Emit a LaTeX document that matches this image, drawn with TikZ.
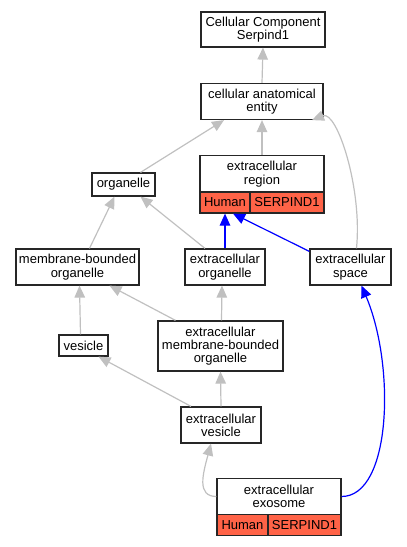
\documentclass[tikz,border=0pt]{standalone}
\usepackage{fontspec}
\setmainfont{Liberation Sans}
\usetikzlibrary{arrows.meta,calc}
\definecolor{edgegray}{RGB}{192,192,192}
\definecolor{cellred}{RGB}{255,99,71}
\tikzset{
  term/.style={draw=black!85, line width=1.2pt, fill=white, inner sep=0pt, align=center,
    font=\fontsize{13}{13.3}\selectfont},
  cell/.style={term, fill=cellred, minimum height=21pt},
  gedge/.style={draw=edgegray, line width=1.2pt, -{Triangle[width=10.5pt,length=12pt]}},
  bedge/.style={draw=blue, line width=1.2pt, -{Triangle[width=10.5pt,length=12pt]}},
}
\begin{document}
\begin{tikzpicture}[x=1pt,y=-1pt]
\useasboundingbox (0,0) rectangle (407,547);
% nodes
\node[term, minimum width=124pt, minimum height=35pt] (ccs) at (263,29.5) {Cellular Component\\Serpind1};
\node[term, minimum width=122pt, minimum height=36pt] (cae) at (262,101.5) {cellular anatomical\\entity};
\node[term, minimum width=124pt, minimum height=37pt] (er) at (262,174) {extracellular\\region};
\node[cell, minimum width=50pt] (erh) at (225,202.5) {Human};
\node[cell, minimum width=74pt] (ers) at (287,202.5) {SERPIND1};
\node[term, minimum width=63pt, minimum height=23pt] (org) at (123.5,184.5) {organelle};
\node[term, minimum width=123pt, minimum height=36pt] (mbo) at (77.5,267) {membrane-bounded\\organelle};
\node[term, minimum width=80pt, minimum height=36pt] (eo) at (225,267) {extracellular\\organelle};
\node[term, minimum width=81pt, minimum height=36pt] (es) at (350.5,267) {extracellular\\space};
\node[term, minimum width=49pt, minimum height=21pt] (ves) at (83.5,345.5) {vesicle};
\node[term, minimum width=125pt, minimum height=50pt] (embo) at (220.5,346) {extracellular\\membrane-bounded\\organelle};
\node[term, minimum width=80pt, minimum height=36pt] (ev) at (221,425) {extracellular\\vesicle};
\node[term, minimum width=124pt, minimum height=36pt] (exo) at (279,496.5) {extracellular\\exosome};
\node[cell, minimum width=51pt] (exoh) at (242.5,525) {Human};
\node[cell, minimum width=73pt] (exos) at (304.5,525) {SERPIND1};
% gray edges
\draw[gedge] (cae.north) -- (ccs.south);
\draw[gedge] (er.north) -- (cae.south);
\draw[gedge] ($(org.north)+(17,0)$) -- ($(cae.south)+(-38,0)$);
\draw[gedge] ($(es.north)+(6,0)$) .. controls ($(es.north)+(12,-60)$) and ($(cae.south)+(75,-10)$) .. ($(cae.south)+(50,0)$);
\draw[gedge] ($(mbo.north)+(12,0)$) -- ($(org.south)+(-9,0)$);
\draw[gedge] ($(eo.north)+(-20,0)$) -- ($(org.south)+(17,0)$);
\draw[gedge] ($(ves.north)+(-3,0)$) -- ($(mbo.south)+(2,0)$);
\draw[gedge] ($(embo.north)+(-45,0)$) -- ($(mbo.south)+(32,0)$);
\draw[gedge] ($(embo.north)+(1,0)$) -- ($(eo.south)+(-3,0)$);
\draw[gedge] ($(ev.north)+(-30,0)$) -- ($(ves.south)+(15,0)$);
\draw[gedge] (ev.north) -- (embo.south);
\draw[gedge] (exo.west) .. controls ($(exo.west)+(-20,0)$) and ($(ev.south)+(-18,30)$) .. ($(ev.south)+(-10,0)$);
% blue edges
\draw[bedge] (eo.north) -- (erh.south);
\draw[bedge] ($(es.north west)+(0,3)$) -- ($(erh.south)+(8,0)$);
\draw[bedge] (exo.east) .. controls ($(exo.east)+(50,0)$) and ($(es.south)+(45,80)$) .. ($(es.south)+(11,0)$);
\end{tikzpicture}
\end{document}
